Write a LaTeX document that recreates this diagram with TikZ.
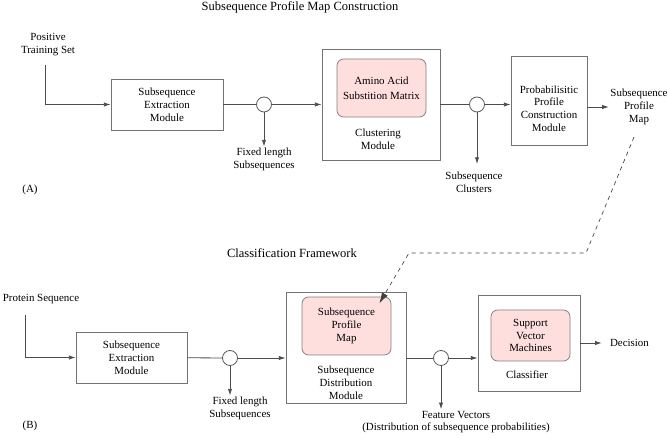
\documentclass[tikz,border=0pt]{standalone}
\usepackage{fontspec}
\setmainfont{Liberation Serif}
\usepackage{tikz}
\usetikzlibrary{arrows.meta, positioning, calc}
\tikzset{
    modbox/.style={rectangle, draw=black!55, line width=0.6pt, align=center,
        font=\fontsize{8.2}{9.6}\selectfont},
    pinkbox/.style={rectangle, rounded corners=5pt, draw=black!50, fill=red!13,
        line width=0.6pt, align=center, font=\fontsize{8.2}{9.6}\selectfont},
    txt/.style={align=center, inner sep=1pt, font=\fontsize{8.2}{9.6}\selectfont},
    titletxt/.style={inner sep=1pt, font=\fontsize{9.4}{11}\selectfont},
    junction/.style={circle, draw=black!65, line width=0.6pt, minimum size=11.25pt, inner sep=0pt},
    flowline/.style={draw=black!70, line width=0.6pt},
    flowarrow/.style={-{Latex[length=5pt,width=3.2pt]}, draw=black!70, line width=0.6pt},
    dasharrow/.style={dashed, -{Latex[length=8pt,width=5pt]}, draw=black!75, line width=0.5pt},
}
\begin{document}
\begin{tikzpicture}[x=0.75pt, y=-0.75pt]
    \useasboundingbox (0,0) rectangle (668,438);

    % (A) Subsequence Profile Map Construction
    \node[titletxt] (titleA) at (300,7) {Subsequence Profile Map Construction};
    \node[txt] (posset) at (48,44.5) {Positive\\Training Set};
    \coordinate (posin) at (45,65);
    \node[modbox, minimum width=84pt, minimum height=38.25pt] (extA) at (167,104.5)
        {Subsequence\\Extraction\\Module};
    \node[junction] (jA1) at (264,104.5) {};
    \node[txt] (fixA) at (264,159.5) {Fixed length\\Subsequences};

    % Clustering module with the matrix inside
    \node[modbox, minimum width=88.5pt, minimum height=83.25pt] (clus) at (381,104.5) {};
    \node[pinkbox, minimum width=66.75pt, minimum height=43.5pt] (aamat) at (381.5,88)
        {Amino Acid\\[2pt]Substition Matrix};
    \node[txt] (clustxt) at (378,139.5) {Clustering\\Module};
    \node[junction] (jA2) at (477,104.5) {};
    \node[txt] (subclus) at (474,182.5) {Subsequence\\Clusters};

    \node[modbox, minimum width=57pt, minimum height=66.75pt] (prob) at (549,100.5) {};
    \node[txt] (probtxt) at (549,108.5) {Probabilisitic\\Profile\\Construction\\Module};
    \node[txt] (spm) at (639,107) {Subsequence\\Profile\\Map};
    \node[txt] (labA) at (30,190) {(A)};

    \draw[flowarrow] (posin) |- (extA.west);
    \draw[flowline] (extA) -- (jA1);
    \draw[flowarrow] (jA1) -- (clus);
    \draw[flowarrow] (jA1) -- (fixA);
    \draw[flowline] (clus) -- (jA2);
    \draw[flowarrow] (jA2) -- (jA2 -| prob.west);
    \draw[flowarrow, shorten >=5pt] (jA2) -- (jA2 |- subclus.north);
    \draw[flowarrow] (spm.west -| prob.east) -- (spm.west);

    % (B) Classification Framework
    \node[titletxt] (titleB) at (292,253) {Classification Framework};
    \node[txt] (protseq) at (41,299) {Protein Sequence};
    \coordinate (protin) at (25,315);
    \node[modbox, minimum width=83.25pt, minimum height=38.25pt] (extB) at (131.5,357.5)
        {Subsequence\\Extraction\\Module};
    \node[junction] (jB1) at (230,358) {};
    \node[txt] (fixB) at (240,408.5) {Fixed length\\Subsequences};

    \node[modbox, minimum width=90pt, minimum height=83.25pt] (dist) at (346,347.5) {};
    \node[pinkbox, minimum width=66.75pt, minimum height=43.5pt] (spmB) at (346.5,326)
        {Subsequence\\Profile\\Map};
    \node[txt] (disttxt) at (346,382.5) {Subsequence\\Distribution\\Module};
    \node[junction] (jB2) at (441,358) {};
    \node[txt] (featvec) at (456,422) {Feature Vectors\\(Distribution of subsequence probabilities)};

    \node[modbox, minimum width=76.5pt, minimum height=72pt] (classif) at (529,343) {};
    \node[pinkbox, minimum width=59.25pt, minimum height=38.25pt] (svm) at (530.5,335.5)
        {Support\\Vector\\Machines};
    \node[txt] (classtxt) at (527,375) {Classifier};
    \node[txt, right=21pt of classif] (decision) {Decision};
    \node[txt] (labB) at (30,426) {(B)};

    \draw[flowarrow] (protin) |- (extB.west);
    \draw[flowline] (extB) -- (jB1);
    \draw[flowarrow] (jB1) -- (jB1 -| dist.west);
    \draw[flowarrow] (jB1) -- (jB1 |- fixB.north);
    \draw[flowline] (jB2 -| dist.east) -- (jB2);
    \draw[flowarrow] (jB2) -- (jB2 -| classif.west);
    \draw[flowarrow] (jB2) -- (jB2 |- featvec.north);
    \draw[flowarrow, shorten >=5pt] (classif) -- (decision);

    % profile map handed over to the classification stage
    \coordinate (dk1) at (586,253);
    \coordinate (dk2) at (409,253);
    \draw[dasharrow] ([xshift=-3.75pt,yshift=-8pt]spm.south) -- (dk1) -- (dk2)
        -- ([xshift=-9pt,yshift=-5pt]spmB.north east);
\end{tikzpicture}
\end{document}
